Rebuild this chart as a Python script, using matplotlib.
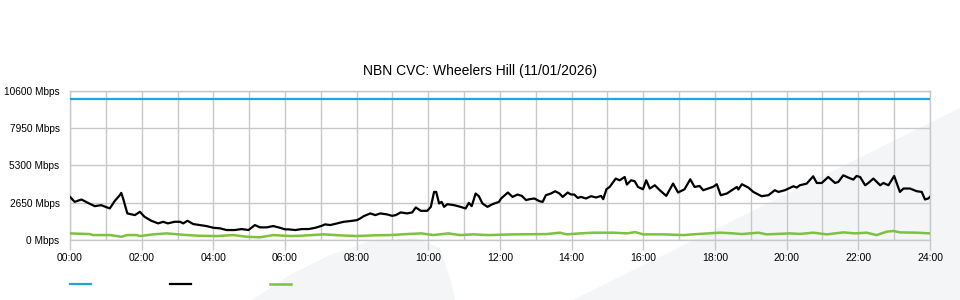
import matplotlib
matplotlib.use("Agg")
import matplotlib.pyplot as plt
from matplotlib.patches import Polygon

# chart data (hours since midnight, Mbps)
title = "NBN CVC: Wheelers Hill (11/01/2026)"
capacity_hours = [0, 24]
capacity_mbps = [10000, 10000]

down_hours = [0.00, 0.13, 0.32, 0.50, 0.69, 0.87, 1.11, 1.25, 1.39, 1.43, 1.48, 1.60, 1.81, 1.95,
              2.08, 2.27, 2.46, 2.60, 2.73, 2.92, 3.07, 3.16, 3.28, 3.44, 3.63, 3.81, 4.00, 4.19,
              4.37, 4.60, 4.79, 4.98, 5.16, 5.30, 5.49, 5.67, 5.86, 6.00, 6.10, 6.29, 6.47, 6.66,
              6.85, 7.03, 7.12, 7.26, 7.45, 7.64, 7.82, 8.01, 8.10, 8.20, 8.38, 8.52, 8.66, 8.85,
              8.99, 9.09, 9.23, 9.41, 9.55, 9.65, 9.79, 9.97, 10.07, 10.16, 10.22, 10.30, 10.37,
              10.44, 10.53, 10.72, 10.90, 11.04, 11.13, 11.21, 11.32, 11.41, 11.51, 11.65, 11.79,
              11.97, 12.03, 12.22, 12.35, 12.49, 12.61, 12.73, 12.82, 12.96, 13.10, 13.19, 13.28,
              13.42, 13.54, 13.66, 13.75, 13.89, 13.98, 14.07, 14.17, 14.26, 14.40, 14.54, 14.68,
              14.82, 14.88, 14.97, 15.06, 15.23, 15.34, 15.48, 15.54, 15.66, 15.76, 15.85, 15.99,
              16.08, 16.18, 16.32, 16.46, 16.64, 16.83, 16.97, 17.15, 17.31, 17.43, 17.57, 17.67,
              17.81, 17.94, 18.05, 18.16, 18.33, 18.47, 18.61, 18.65, 18.75, 18.93, 19.07, 19.30,
              19.49, 19.67, 19.77, 19.95, 20.19, 20.28, 20.37, 20.56, 20.74, 20.84, 20.98, 21.16,
              21.35, 21.44, 21.58, 21.72, 21.86, 21.95, 22.05, 22.19, 22.28, 22.42, 22.61, 22.70,
              22.84, 23.00, 23.16, 23.26, 23.44, 23.63, 23.77, 23.86, 23.95, 24.00]
down_mbps = [3060, 2707, 2876, 2636, 2403, 2473, 2240, 2777, 3180, 3343, 2968, 1887, 1767, 2000,
             1647, 1364, 1180, 1293, 1180, 1293, 1293, 1180, 1364, 1131, 1060, 989, 869, 827,
             707, 707, 777, 707, 1060, 897, 897, 989, 869, 756, 756, 707, 777, 777,
             869, 1011, 1110, 1060, 1180, 1293, 1343, 1413, 1534, 1696, 1887, 1767, 1887, 1816,
             1717, 1767, 1958, 1887, 1958, 2311, 2071, 2071, 2353, 3413, 3413, 2594, 2707,
             2353, 2544, 2473, 2353, 2240, 2636, 2403, 3300, 3109, 2594, 2353, 2544,
             2707, 2947, 3371, 3060, 3230, 3131, 2827, 2897, 2947, 2756, 2707, 3180,
             3300, 3463, 3300, 3060, 3371, 3230, 3230, 2989, 3060, 2947, 3109, 3018,
             3131, 2897, 3604, 3767, 4360, 4240, 4473, 3936, 4240, 4170, 3767, 3604,
             4240, 3654, 3887, 3534, 3131, 4007, 3371, 3604, 4311, 3767, 3837, 3534,
             3654, 3767, 3958, 3180, 3300, 3534, 3767, 3583, 3958, 3724, 3413, 3109,
             3180, 3534, 3413, 3534, 3816, 3724, 3887, 4007, 4523, 4049, 4049, 4473,
             4049, 4120, 4594, 4431, 4290, 4544, 4473, 3887, 4049, 4360, 3887, 4049,
             3887, 4544, 3413, 3654, 3654, 3463, 3413, 2876, 2947, 3060]

up_hours = [0, 0.56, 0.64, 1.12, 1.44, 1.58, 1.86, 1.95, 2.32, 2.70, 2.88, 3.26, 3.63, 4.09,
            4.56, 4.93, 5.30, 5.67, 6.14, 6.42, 7.07, 7.54, 8.00, 8.46, 8.93, 9.40, 9.81, 10.14,
            10.56, 10.88, 11.26, 11.67, 12.37, 13.30, 13.67, 13.86, 14.23, 14.60, 15.16, 15.54,
            15.77, 16.00, 16.56, 17.12, 17.49, 18.14, 18.51, 18.75, 19.21, 19.44, 20.09, 20.37,
            20.74, 21.12, 21.58, 21.91, 22.23, 22.51, 22.79, 22.98, 23.16, 23.63, 24.0]
up_mbps = [470, 420, 350, 350, 230, 350, 350, 280, 400, 470, 430, 350, 300, 280,
           350, 230, 190, 350, 280, 300, 400, 330, 280, 330, 350, 420, 470, 350,
           470, 350, 400, 350, 400, 420, 520, 400, 470, 520, 520, 470,
           560, 400, 400, 350, 420, 520, 470, 420, 520, 400, 470, 430,
           520, 400, 540, 470, 520, 350, 590, 640, 540, 520, 470]

y_ticks = [0, 2650, 5300, 7950, 10600]
x_ticks = list(range(0, 25, 2))
x_labels = ["%02d:00" % h for h in x_ticks]

plt.rcParams["font.family"] = ["Liberation Sans", "DejaVu Sans"]
grid_col = "#c8c8c8"

fig = plt.figure(figsize=(9.6, 3.0), dpi=100)

# faint background watermark shapes
def px(pts):
    return [(x / 960, 1 - y / 300) for x, y in pts]

fig.add_artist(Polygon(px([(573, 300), (960, 108), (960, 300)]), closed=True,
                       facecolor="#f4f5f7", edgecolor="none", zorder=0))
fig.add_artist(Polygon(px([(252, 300), (290, 275), (330, 255), (370, 241), (415, 238),
                           (440, 248), (452, 285), (455, 300)]), closed=True,
                       facecolor="#f4f5f7", edgecolor="none", zorder=0))

ax = fig.add_axes([70 / 960, 0.2, 860 / 960, 149.3 / 300])
ax.set_facecolor("none")

l1, = ax.plot(capacity_hours, capacity_mbps, color="#1ea5e0", lw=1.6, zorder=3)
l2, = ax.plot(down_hours, down_mbps, color="black", lw=1.6, zorder=4)
l3, = ax.plot(up_hours, up_mbps, color="#7dc13d", lw=1.8, zorder=3)

ax.set_xlim(0, 24)
ax.set_ylim(0, 10600)
ax.set_yticks(y_ticks)
ax.set_yticklabels(["%d Mbps" % v for v in y_ticks], fontsize=7.3)
ax.set_xticks(x_ticks)
ax.set_xticklabels(x_labels, fontsize=7.5)
ax.set_xticks(range(1, 24, 2), minor=True)
ax.tick_params(axis="y", length=0, pad=7.5)
ax.tick_params(axis="x", which="major", length=7.5, color=grid_col, width=1, pad=2)
ax.tick_params(axis="x", which="minor", length=0)
ax.grid(True, which="both", color=grid_col, lw=1)
ax.set_axisbelow(True)
for s in ax.spines.values():
    s.set_color(grid_col)
    s.set_linewidth(1)

fig.text(0.5, 1 - 71 / 300, title, ha="center", va="center", fontsize=10)

# legend swatches without text
fig.legend([l1, l2, l3], ["", "", ""], ncol=3, loc="center left",
           bbox_to_anchor=(70 / 960, 1 - 285 / 300), frameon=False, borderpad=0,
           borderaxespad=0, handlelength=1.5, handletextpad=0, columnspacing=5.7,
           fontsize=10)

fig.savefig("out.png", dpi=100)
